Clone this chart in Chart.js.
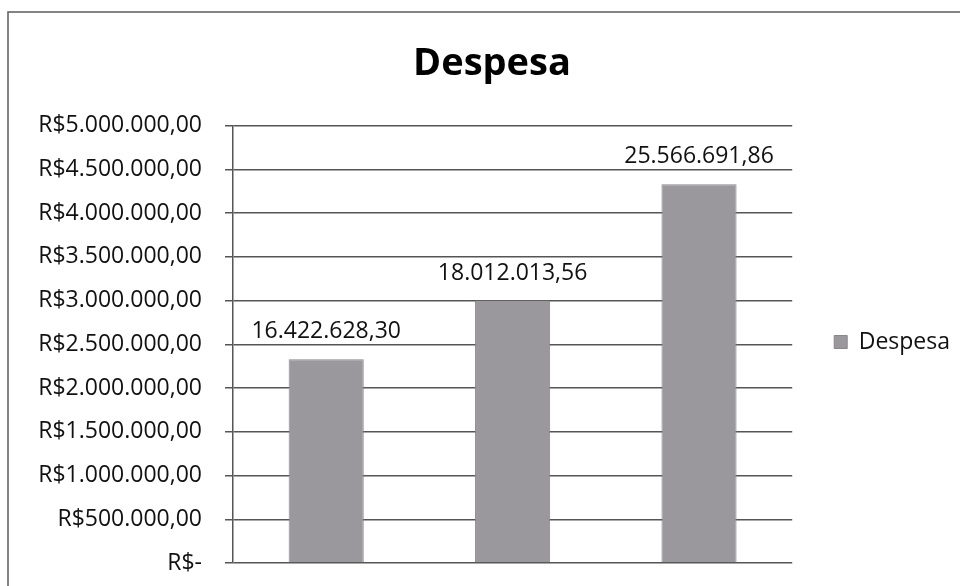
<!DOCTYPE html>
<html>
<head>
<meta charset="utf-8">
<script src="https://cdn.jsdelivr.net/npm/chart.js@4/dist/chart.umd.min.js"></script>
<style>
  html, body { margin: 0; padding: 0; background: #ffffff; }
  #wrap { width: 960px; height: 586px; }
</style>
</head>
<body>
<div id="wrap"><canvas id="c" width="960" height="586"></canvas></div>
<script>
// ---- data ----
const chartTitle = 'Despesa';
const seriesName = 'Despesa';
const categories = ['1', '2', '3'];
const despesaValues = [2330000, 3000000, 4330000];
const despesaLabels = ['16.422.628,30', '18.012.013,56', '25.566.691,86'];
const yTickLabels = [
  'R$-', 'R$500.000,00', 'R$1.000.000,00', 'R$1.500.000,00', 'R$2.000.000,00',
  'R$2.500.000,00', 'R$3.000.000,00', 'R$3.500.000,00', 'R$4.000.000,00',
  'R$4.500.000,00', 'R$5.000.000,00'
];
const yMin = 0, yMax = 5000000, yStep = 500000;

const FONT = "'Open Sans', 'Noto Sans', sans-serif";

const frame = {
  id: 'frame',
  beforeDraw(chart) {
    const ctx = chart.ctx;
    ctx.save();
    ctx.fillStyle = '#ffffff';
    ctx.fillRect(0, 0, chart.width, chart.height);
    ctx.strokeStyle = '#666666';
    ctx.lineWidth = 1.6;
    ctx.strokeRect(8, 12, 1000, 700);
    ctx.restore();
  }
};

const barLabels = {
  id: 'barLabels',
  afterDatasetsDraw(chart) {
    const ctx = chart.ctx;
    const meta = chart.getDatasetMeta(0);
    ctx.save();
    ctx.font = '23px ' + FONT;
    ctx.fillStyle = '#111111';
    ctx.textAlign = 'center';
    ctx.textBaseline = 'alphabetic';
    meta.data.forEach((bar, i) => {
      ctx.fillText(despesaLabels[i], bar.x, bar.y - 21);
    });
    ctx.restore();
  }
};

new Chart(document.getElementById('c'), {
  type: 'bar',
  data: {
    labels: categories,
    datasets: [{
      label: seriesName,
      data: despesaValues,
      backgroundColor: '#9b989d',
      borderColor: '#8a878c',
      borderWidth: 1,
      categoryPercentage: 1.0,
      barPercentage: 0.403
    }]
  },
  options: {
    responsive: false,
    animation: false,
    devicePixelRatio: 1,
    layout: { padding: { left: 24, right: 0, top: 12, bottom: 10 } },
    plugins: {
      title: {
        display: true,
        text: chartTitle,
        color: '#000000',
        font: { family: FONT, size: 38, weight: 'bold', lineHeight: 1.2 },
        padding: { top: 29, bottom: 39 }
      },
      legend: {
        display: true,
        position: 'right',
        maxWidth: 168,
        title: {
          display: true,
          text: '',
          font: { family: FONT, size: 10, lineHeight: 1.2 },
          padding: 42
        },
        labels: {
          color: '#111111',
          font: { family: FONT, size: 23 },
          boxWidth: 13,
          boxHeight: 13,
          padding: 42
        }
      },
      tooltip: { enabled: false }
    },
    scales: {
      x: {
        display: false
      },
      y: {
        min: yMin,
        max: yMax,
        ticks: {
          stepSize: yStep,
          color: '#111111',
          font: { family: FONT, size: 23 },
          padding: 23,
          callback: (v, i) => yTickLabels[i]
        },
        grid: {
          color: '#555555',
          lineWidth: 1.5,
          tickLength: 8,
          drawTicks: true
        },
        border: { display: true, color: '#555555', width: 1.5 },
        afterFit(scale) {
          scale.width = 209;
          scale.paddingBottom = 23;
          scale.paddingTop = 14;
        }
      }
    }
  },
  plugins: [frame, barLabels]
});
</script>
</body>
</html>
